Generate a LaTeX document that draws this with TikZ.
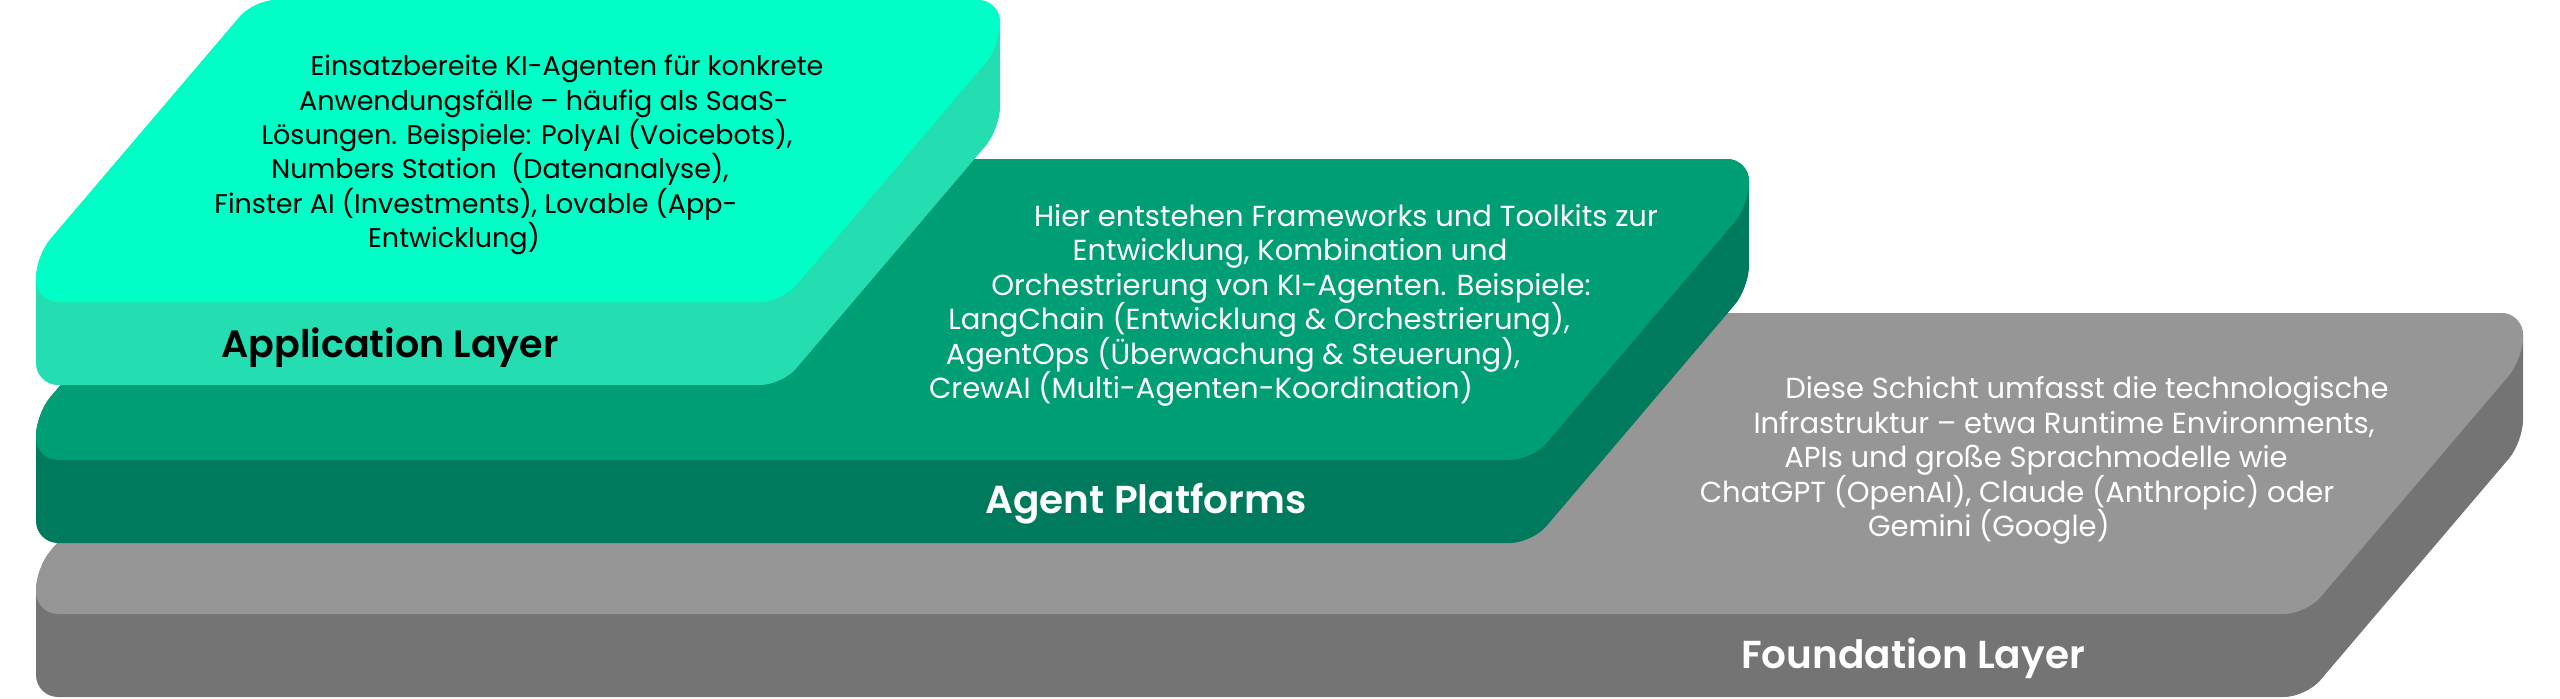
\documentclass[tikz,border=0pt]{standalone}
\usepackage{fontspec}
\setmainfont{Poppins}[BoldFont={Poppins SemiBold}]

\begin{document}
\begin{tikzpicture}[x=0.5pt, y=-0.5pt,
    slab/.style={rounded corners=11pt},
    body/.style={anchor=base, inner sep=0pt, font=\fontsize{14.5}{17}\selectfont},
    appbody/.style={body, font=\fontsize{13.5}{16}\selectfont},
    title/.style={anchor=base, inner sep=0pt, font=\fontsize{19.5}{23}\selectfont\bfseries}]
    \useasboundingbox (0, 0) rectangle (2560, 698);

    % Foundation Layer
    \fill [slab, fill={rgb,255:red,116;green,116;blue,116}] (36, 697) -- (36, 568) -- (253, 313) -- (2523, 313) -- (2523, 442) -- (2306, 697) -- cycle;
    \fill [slab, fill={rgb,255:red,150;green,150;blue,150}] (36, 614) -- (36, 568) -- (253, 313) -- (2523, 313) -- (2523, 359) -- (2306, 614) -- cycle;

    % Agent Platforms
    \fill [slab, fill={rgb,255:red,0;green,122;blue,92}] (36, 543) -- (36, 414) -- (253, 159) -- (1749, 159) -- (1749, 288) -- (1532, 543) -- cycle;
    \fill [slab, fill={rgb,255:red,0;green,158;blue,117}] (36, 460) -- (36, 414) -- (253, 159) -- (1749, 159) -- (1749, 205) -- (1532, 460) -- cycle;

    % Application Layer
    \fill [slab, fill={rgb,255:red,36;green,222;blue,177}] (36, 385) -- (36, 256) -- (254, 0) -- (1000, 0) -- (1000, 129) -- (782, 385) -- cycle;
    \fill [slab, fill={rgb,255:red,0;green,255;blue,198}] (36, 302) -- (36, 256) -- (254, 0) -- (1000, 0) -- (1000, 46) -- (782, 302) -- cycle;

    \node [appbody] (app1) at (567, 75) {Einsatzbereite KI-Agenten für konkrete};
    \node [appbody] (app2) at (544, 110) {Anwendungsfälle – häufig als SaaS-};
    \node [appbody] (app3) at (527, 144) {Lösungen. Beispiele: PolyAI (Voicebots),};
    \node [appbody] (app4) at (500, 178) {Numbers Station\ \ (Datenanalyse),};
    \node [appbody] (app5) at (476, 213) {Finster AI (Investments), Lovable (App-};
    \node [appbody] (app6) at (454, 247) {Entwicklung)};
    \node [title, font=\fontsize{19}{23}\selectfont\bfseries] (apptitle) at (390, 357) {Application Layer};

    \node [body, white] (agent1) at (1346, 226) {Hier entstehen Frameworks und Toolkits zur};
    \node [body, white] (agent2) at (1290, 260) {Entwicklung, Kombination und};
    \node [body, white] (agent3) at (1291, 295) {Orchestrierung von KI-Agenten. Beispiele:};
    \node [body, white] (agent4) at (1259, 329) {LangChain (Entwicklung \& Orchestrierung),};
    \node [body, white] (agent5) at (1233, 364) {AgentOps (Überwachung \& Steuerung),};
    \node [body, white] (agent6) at (1201, 398) {CrewAI (Multi-Agenten-Koordination)};
    \node [title, white] (agenttitle) at (1146, 513) {Agent Platforms};

    \node [body, white] (found1) at (2087, 398) {Diese Schicht umfasst die technologische};
    \node [body, white] (found2) at (2064, 433) {Infrastruktur – etwa Runtime Environments,};
    \node [body, white] (found3) at (2036, 467) {APIs und große Sprachmodelle wie};
    \node [body, white] (found4) at (2017, 502) {ChatGPT (OpenAI), Claude (Anthropic) oder};
    \node [body, white] (found5) at (1989, 536) {Gemini (Google)};
    \node [title, white] (foundtitle) at (1913, 668) {Foundation Layer};
\end{tikzpicture}
\end{document}
